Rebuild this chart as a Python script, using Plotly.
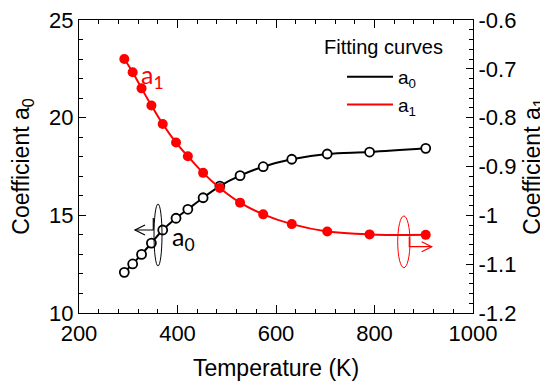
import plotly.graph_objects as go

# ---- data ----
temperature = [292, 309, 327, 347, 370, 397, 421, 452, 486, 527, 574, 632, 704, 790, 904]
a0_values = [12.08, 12.51, 13.00, 13.58, 14.25, 14.85, 15.31, 15.90, 16.50, 17.03, 17.49, 17.87, 18.14, 18.24, 18.43]
a1_values = [-0.680, -0.707, -0.740, -0.775, -0.813, -0.851, -0.879, -0.913, -0.944, -0.974, -0.998, -1.018, -1.033, -1.039, -1.040]

x_ticks = [200, 400, 600, 800, 1000]
y_ticks = [10, 15, 20, 25]
y2_ticks = [-1.2, -1.1, -1.0, -0.9, -0.8, -0.7, -0.6]
y2_tick_labels = ["-1.2", "-1.1", "-1", "-0.9", "-0.8", "-0.7", "-0.6"]

# the page places the figure 8px from the window's top-left corner
PAGE = 8
W, H = 548 - PAGE, 385 - PAGE
L, R, T, B = 79, 473, 20, 313          # plot frame in window pixels
FONT = "Liberation Sans, Arial, sans-serif"


def px(xp):
    return (xp - L) / (R - L)


def py(yp):
    return (B - yp) / (B - T)


fig = go.Figure()

# red a1 fit + points (drawn first so black sits on top)
fig.add_trace(go.Scatter(x=temperature, y=a1_values, yaxis="y2", mode="lines",
                         line=dict(color="#ff0000", width=2, shape="spline", smoothing=1),
                         name="a<sub>1</sub>", legendrank=2))
fig.add_trace(go.Scatter(x=temperature, y=a1_values, yaxis="y2", mode="markers",
                         marker=dict(color="#ff0000", size=10, line=dict(width=0)),
                         showlegend=False))
fig.add_trace(go.Scatter(x=temperature, y=a0_values, mode="lines",
                         line=dict(color="black", width=2, shape="spline", smoothing=1),
                         name="a<sub>0</sub>", legendrank=1))
fig.add_trace(go.Scatter(x=temperature, y=a0_values, mode="markers",
                         marker=dict(color="white", size=9, line=dict(color="black", width=1.8)),
                         showlegend=False))

axis_common = dict(showline=True, linecolor="black", linewidth=1.3, ticks="inside",
                   tickcolor="black", tickwidth=1.2, showgrid=False, zeroline=False,
                   automargin=False, ticklabeloverflow="allow",
                   tickfont=dict(family=FONT, size=22, color="black"))

fig.update_layout(
    width=W, height=H,
    margin=dict(l=L - PAGE, r=548 - R, t=T - PAGE, b=385 - B, autoexpand=False),
    paper_bgcolor="white", plot_bgcolor="white",
    font=dict(family=FONT, color="black"),
    xaxis=dict(range=[200, 1000], tickvals=x_ticks, ticklen=8, mirror="ticks",
               minor=dict(dtick=40, ticklen=4, ticks="inside", tickcolor="black", tickwidth=1.2),
               title=dict(text="Temperature (K)", font=dict(family=FONT, size=23)),
               **axis_common),
    yaxis=dict(range=[10, 25], tickvals=y_ticks, ticklen=7,
               minor=dict(dtick=1, ticklen=4, ticks="inside", tickcolor="black", tickwidth=1.2),
               title=dict(text="Coefficient a<sub>0</sub>", font=dict(family=FONT, size=23)),
               **axis_common),
    yaxis2=dict(range=[-1.2, -0.6], overlaying="y", side="right", tickvals=y2_ticks,
                ticktext=y2_tick_labels, ticklen=7,
                minor=dict(dtick=0.02, ticklen=4, ticks="inside", tickcolor="black", tickwidth=1.2),
                title=dict(text="Coefficient a<sub>1</sub>", font=dict(family=FONT, size=23)),
                **axis_common),
    legend=dict(x=px(342), y=py(58), xanchor="left", yanchor="top",
                bgcolor="rgba(0,0,0,0)", borderwidth=0,
                font=dict(family=FONT, size=19, color="black"),
                tracegroupgap=0, itemwidth=46),
    showlegend=True,
)

# legend heading
fig.add_annotation(x=px(322), y=py(47), xref="paper", yref="paper", xanchor="left",
                   yanchor="middle", text="Fitting curves", showarrow=False,
                   font=dict(family=FONT, size=20, color="black"))

# text labels for the series
fig.add_annotation(x=px(139), y=py(76), xref="paper", yref="paper", xanchor="left",
                   yanchor="middle", text="a<sub>1</sub>", showarrow=False,
                   font=dict(family="Lato, Open Sans, sans-serif", size=25, color="#ff0000"))
fig.add_annotation(x=px(170), y=py(238), xref="paper", yref="paper", xanchor="left",
                   yanchor="middle", text="a<sub>0</sub>", showarrow=False,
                   font=dict(family="Lato, Open Sans, sans-serif", size=25, color="black"))

# axis-indicator ellipses and arrows
def path(points):
    s = "M " + " L ".join(f"{px(a)},{py(b)}" for a, b in points)
    return s

fig.add_shape(type="circle", xref="paper", yref="paper",
              x0=px(154), x1=px(162), y0=py(266), y1=py(204),
              line=dict(color="black", width=1))
fig.add_shape(type="path", xref="paper", yref="paper",
              path=path([(153.3, 218), (153.3, 230), (135, 230)]),
              line=dict(color="black", width=1.2))
fig.add_shape(type="path", xref="paper", yref="paper",
              path=path([(145, 225), (135, 230), (145, 235)]),
              line=dict(color="black", width=1.2))

fig.add_shape(type="circle", xref="paper", yref="paper",
              x0=px(397.7), x1=px(410), y0=py(267.7), y1=py(216),
              line=dict(color="#ff0000", width=1))
fig.add_shape(type="path", xref="paper", yref="paper",
              path=path([(409.3, 236.7), (409.3, 246.7), (431.7, 246.7)]),
              line=dict(color="#ff0000", width=1.2))
fig.add_shape(type="path", xref="paper", yref="paper",
              path=path([(421.7, 241.7), (431.7, 246.7), (421.7, 251.7)]),
              line=dict(color="#ff0000", width=1.2))

fig.write_html("out.html")
